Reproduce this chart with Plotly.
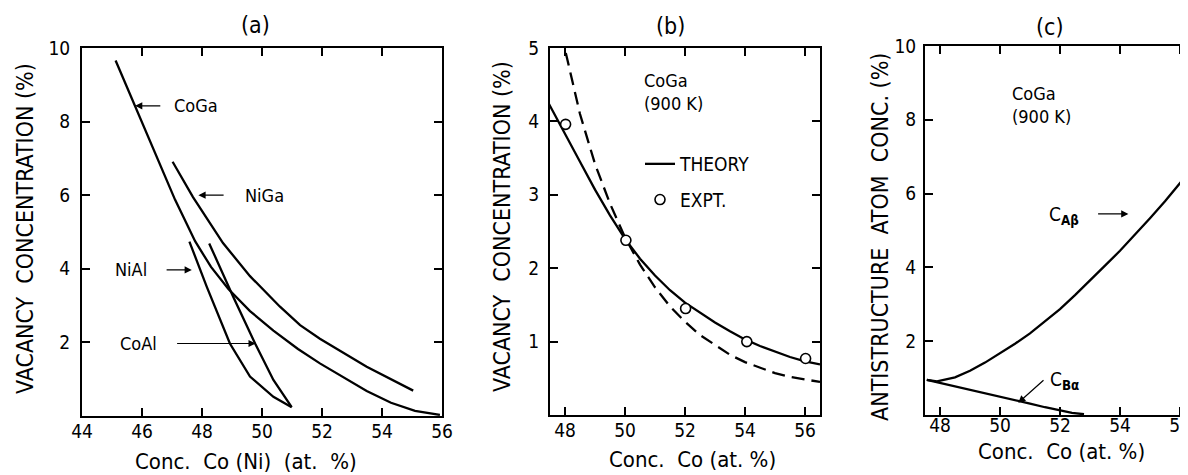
import plotly.graph_objects as go

# ---------------- data ----------------
# Panel (a): vacancy concentration vs composition
coga_x = [45.12, 45.77, 46.43, 47.1, 47.77, 48.3, 48.88, 49.6, 50.38, 51.2, 51.93, 52.7, 53.49, 54.3, 55.1, 55.93]
coga_y = [9.66, 8.42, 7.15, 5.88, 4.75, 4.05, 3.45, 2.85, 2.32, 1.82, 1.43, 1.05, 0.68, 0.36, 0.14, 0.03]
niga_x = [47.02, 47.7, 48.7, 49.6, 50.6, 51.27, 51.93, 52.38, 53.49, 55.04]
niga_y = [6.91, 5.95, 4.7, 3.8, 2.97, 2.47, 2.1, 1.88, 1.34, 0.69]
nial_x = [47.58, 48.16, 48.93, 49.6, 50.38, 50.99]
nial_y = [4.74, 3.51, 1.97, 1.07, 0.52, 0.24]
coal_x = [48.24, 49.04, 49.77, 50.38, 50.99]
coal_y = [4.69, 3.24, 1.97, 0.98, 0.24]

# Panel (b): CoGa at 900 K
theory_x = [47.45, 48.0, 48.5, 49.0, 49.5, 50.0, 50.5, 51.0, 51.5, 52.0, 52.5, 53.0, 53.5, 54.0, 54.5, 55.0, 55.5, 56.0, 56.5]
theory_y = [4.25, 3.84, 3.45, 3.07, 2.72, 2.4, 2.13, 1.9, 1.7, 1.53, 1.39, 1.26, 1.14, 1.03, 0.94, 0.86, 0.79, 0.73, 0.69]
dashed_x = [47.9, 48.0, 48.5, 49.0, 49.5, 50.0, 50.5, 51.0, 51.5, 52.0, 52.5, 53.0, 53.5, 54.0, 54.5, 55.0, 55.5, 56.0, 56.5]
dashed_y = [5.2, 4.98, 4.1, 3.42, 2.88, 2.42, 2.05, 1.74, 1.48, 1.27, 1.09, 0.95, 0.82, 0.72, 0.64, 0.57, 0.52, 0.48, 0.45]
expt_x = [48.02, 50.03, 52.02, 54.06, 56.02]
expt_y = [3.96, 2.38, 1.45, 1.0, 0.77]

# Panel (c): antistructure atom concentrations
cab_x = [47.56, 47.9, 48.5, 49.0, 49.5, 50.0, 50.5, 51.0, 51.5, 52.0, 52.5, 53.0, 53.5, 54.0, 54.5, 55.0, 55.5, 56.0, 56.5]
cab_y = [0.95, 0.91, 1.02, 1.2, 1.42, 1.67, 1.93, 2.21, 2.53, 2.87, 3.25, 3.66, 4.05, 4.45, 4.88, 5.33, 5.79, 6.27, 6.78]
cba_x = [47.56, 48.0, 48.5, 49.0, 49.5, 50.0, 50.5, 51.0, 51.5, 52.0, 52.4, 52.8]
cba_y = [0.95, 0.87, 0.77, 0.67, 0.58, 0.49, 0.4, 0.31, 0.21, 0.12, 0.06, 0.02]

ticks_a_x = [44, 46, 48, 50, 52, 54, 56]
ticks_a_y = [2, 4, 6, 8, 10]
ticks_b_x = [48, 50, 52, 54, 56]
ticks_b_y = [1, 2, 3, 4, 5]
ticks_c_x = [48, 50, 52, 54, 56]
ticks_c_y = [2, 4, 6, 8, 10]

FONT = "DejaVu Sans Condensed"
OFF = 8            # page body margin
W, H = 1188 - OFF, 475 - OFF
LW = 2.3

fig = go.Figure()

def line(x, y, xa, ya, dash="solid", name=None, show=False, group=None):
    fig.add_trace(go.Scatter(x=x, y=y, mode="lines", xaxis=xa, yaxis=ya,
                             line=dict(color="black", width=LW, dash=dash),
                             name=name, showlegend=show, legendgroup=group,
                             hoverinfo="skip"))

line(coga_x, coga_y, "x", "y")
line(niga_x, niga_y, "x", "y")
line(nial_x, nial_y, "x", "y")
line(coal_x, coal_y, "x", "y")

line(theory_x, theory_y, "x2", "y2", name="THEORY", show=True, group="g1")
line(dashed_x, dashed_y, "x2", "y2", dash="13px,7px")
fig.add_trace(go.Scatter(x=expt_x, y=expt_y, mode="markers", xaxis="x2", yaxis="y2",
                         marker=dict(symbol="circle", size=10, color="white",
                                     line=dict(color="black", width=1.6)),
                         name="EXPT.", showlegend=True, legendgroup="g2", hoverinfo="skip"))

line(cab_x, cab_y, "x3", "y3")
line(cba_x, cba_y, "x3", "y3")

def px(p):
    return (p - OFF) / W

def py(p):
    return 1 - (p - OFF) / H

def axis(**kw):
    d = dict(showline=True, linecolor="black", linewidth=2, ticks="inside",
             ticklen=8, tickwidth=1.6, tickcolor="black", showgrid=False,
             zeroline=False, automargin=False, ticklabeloverflow="allow",
             tickfont=dict(family=FONT, size=19, color="black"))
    d.update(kw)
    return d

fig.update_layout(
    xaxis=axis(domain=[px(82), px(442)], range=[44, 56], tickvals=ticks_a_x,
               mirror="allticks", anchor="y", ticklabelstandoff=-3),
    yaxis=axis(domain=[py(416), py(48)], range=[0, 10], tickvals=ticks_a_y,
               mirror="allticks", anchor="x", ticklabelstandoff=6),
    xaxis2=axis(domain=[px(550), px(820)], range=[47.5, 56.5], tickvals=ticks_b_x,
                mirror="allticks", anchor="y2", ticklabelstandoff=-3),
    yaxis2=axis(domain=[py(415), py(48)], range=[0, 5], tickvals=ticks_b_y,
                mirror="allticks", anchor="x2", ticklabelstandoff=5),
    xaxis3=axis(domain=[px(925), 1.0], range=[47.5, 47.5 + 263 / 30], tickvals=ticks_c_x,
                mirror="allticks", anchor="y3", ticklabelstandoff=-8),
    yaxis3=axis(domain=[py(415), py(46)], range=[0, 10], tickvals=ticks_c_y,
                mirror=False, anchor="x3", ticklabelstandoff=3),
)

ann = []

def text(t, x, y, xref, yref, size=18, xanchor="left", yanchor="middle", angle=0):
    ann.append(dict(text=t, x=x, y=y, xref=xref, yref=yref, showarrow=False,
                    xanchor=xanchor, yanchor=yanchor, textangle=angle,
                    align="left" if xanchor == "left" else "center",
                    font=dict(family=FONT, size=size, color="black")))

def arrow(x0, y0, x1, y1, xref, yref):
    ann.append(dict(text="", x=x1, y=y1, ax=x0, ay=y0, xref=xref, yref=yref,
                    axref=xref, ayref=yref, showarrow=True, arrowhead=2,
                    arrowsize=1.2, arrowwidth=1.2, arrowcolor="black"))

# panel titles
text("(a)", px(255), py(25), "paper", "paper", size=23, xanchor="center")
text("(b)", px(670), py(26), "paper", "paper", size=23, xanchor="center")
text("(c)", px(1050), py(27), "paper", "paper", size=23, xanchor="center")

# axis titles
text("VACANCY  CONCENTRATION (%)", px(25), py(229), "paper", "paper", size=23,
     xanchor="center", angle=-90)
text("VACANCY  CONCENTRATION (%)", px(502), py(227), "paper", "paper", size=23,
     xanchor="center", angle=-90)
text("ANTISTRUCTURE  ATOM  CONC. (%)", px(880), py(237), "paper", "paper", size=23,
     xanchor="center", angle=-90)
text("Conc.  Co (Ni)  (at.  %)", px(246), py(461), "paper", "paper", size=22, xanchor="center")
text("Conc.  Co (at. %)", px(692), py(459), "paper", "paper", size=22, xanchor="center")
text("Conc.  Co (at. %)", px(1061), py(451), "paper", "paper", size=22, xanchor="center")

# panel (a) labels
text("CoGa", 47.0, 8.43, "x", "y")
arrow(46.66, 8.43, 45.77, 8.43, "x", "y")
text("NiGa", 49.37, 6.0, "x", "y")
arrow(48.77, 6.0, 47.88, 6.0, "x", "y")
text("NiAl", 45.03, 3.97, "x", "y")
arrow(46.77, 3.97, 47.66, 3.97, "x", "y")
text("CoAl", 45.2, 1.98, "x", "y")
arrow(47.12, 1.97, 49.79, 1.97, "x", "y")

# panel (b) labels
text("CoGa<br>(900 K)", 50.56, 4.4, "x2", "y2")

# panel (c) labels
text("CoGa<br>(900 K)", 50.33, 8.4, "x3", "y3")
text("C<sub><b>Aβ</b></sub>", 51.57, 5.4, "x3", "y3", size=19)
arrow(53.22, 5.45, 54.28, 5.45, "x3", "y3")
text("C<sub><b>Bα</b></sub>", 51.6, 0.93, "x3", "y3", size=19)
arrow(51.5, 0.98, 50.61, 0.33, "x3", "y3")

fig.update_layout(
    annotations=ann,
    width=W, height=H,
    margin=dict(l=0, r=0, t=0, b=0),
    paper_bgcolor="white", plot_bgcolor="white",
    font=dict(family=FONT, color="black"),
    legend=dict(x=px(640), y=py(145), xanchor="left", yanchor="top",
                font=dict(family=FONT, size=19, color="black"),
                bgcolor="rgba(0,0,0,0)", tracegroupgap=8, traceorder="grouped"),
)

fig.write_html("out.html")
